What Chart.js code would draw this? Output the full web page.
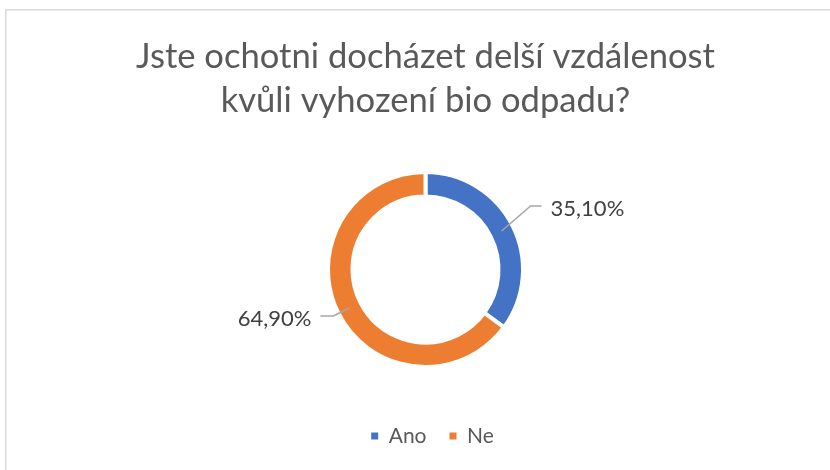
<!DOCTYPE html>
<html>
<head>
<meta charset="utf-8">
<script src="https://cdn.jsdelivr.net/npm/chart.js@4"></script>
<style>
  html, body { margin: 0; padding: 0; background: #fff; }
  #wrap { width: 830px; height: 470px; position: relative; }
</style>
</head>
<body>
<div id="wrap"><canvas id="c" width="830" height="470"></canvas></div>
<script>
const titleLines = ['Jste ochotni docházet delší vzdálenost', 'kvůli vyhození bio odpadu?'];
const categories = ['Ano', 'Ne'];
const percentValues = [35.10, 64.90];
const sliceColors = ['#4472C4', '#ED7D31'];

const FONT = 'Lato, "Open Sans", sans-serif';

// label leader geometry (style, not data): elbow offset from slice anchor, and tail direction
const leaderStyle = [
  { dx: 29, dy: -25, tail: 11, side: 1 },
  { dx: -16, dy: 8, tail: 13, side: -1 }
];

const frame = {
  id: 'frame',
  beforeDraw(chart) {
    const ctx = chart.ctx;
    ctx.save();
    ctx.fillStyle = '#fff';
    ctx.fillRect(0, 0, chart.width, chart.height);
    ctx.strokeStyle = '#D9D9D9';
    ctx.lineWidth = 1.5;
    ctx.strokeRect(5.75, 9.75, 1000, 1000);
    ctx.restore();
  }
};

const legendShift = {
  id: 'legendShift',
  afterLayout(chart) {
    if (chart.legend) { chart.legend.left += 7; chart.legend.right += 7; }
  }
};

const leaders = {
  id: 'leaders',
  afterDatasetsDraw(chart) {
    const ctx = chart.ctx;
    const meta = chart.getDatasetMeta(0);
    ctx.save();
    meta.data.forEach((arc, i) => {
      const p = arc.getProps(['x', 'y', 'startAngle', 'endAngle', 'innerRadius', 'outerRadius'], true);
      const mid = (p.startAngle + p.endAngle) / 2;
      const r = (p.innerRadius + p.outerRadius) / 2;
      const ax = p.x + Math.cos(mid) * r;
      const ay = p.y + Math.sin(mid) * r;
      const st = leaderStyle[i];
      const ex = ax + st.dx, ey = ay + st.dy;
      const tx = ex + st.side * st.tail;
      ctx.strokeStyle = '#A6A6A6';
      ctx.lineWidth = 1.5;
      ctx.beginPath();
      ctx.moveTo(ax, ay);
      ctx.lineTo(ex, ey);
      ctx.lineTo(tx, ey);
      ctx.stroke();
      ctx.fillStyle = '#404040';
      ctx.font = '22px ' + FONT;
      ctx.textBaseline = 'middle';
      ctx.textAlign = st.side > 0 ? 'left' : 'right';
      const txt = percentValues[i].toFixed(2).replace('.', ',') + '%';
      ctx.fillText(txt, tx + st.side * 9, ey + 3);
    });
    ctx.restore();
  }
};

new Chart(document.getElementById('c'), {
  type: 'doughnut',
  data: {
    labels: categories,
    datasets: [{
      data: percentValues,
      backgroundColor: sliceColors,
      borderColor: '#ffffff',
      borderWidth: 4
    }]
  },
  options: {
    responsive: false,
    animation: false,
    devicePixelRatio: 1,
    radius: 97.5,
    cutout: '74.9%',
    layout: { padding: { left: 21, right: 0, top: 10, bottom: 13.5 } },
    plugins: {
      title: {
        display: true,
        text: titleLines,
        color: '#595959',
        font: { family: FONT, size: 34.6, weight: 'normal', lineHeight: 44 / 34.6 },
        padding: { top: 25, bottom: 13.5 }
      },
      legend: {
        position: 'bottom',
        labels: {
          color: '#595959',
          font: { family: FONT, size: 21 },
          boxWidth: 7,
          boxHeight: 7,
          padding: 23,
          generateLabels(chart) {
            return categories.map((c, i) => ({
              text: c, fillStyle: sliceColors[i], strokeStyle: sliceColors[i],
              lineWidth: 0, hidden: false, index: i, fontColor: '#595959'
            }));
          }
        }
      },
      tooltip: { enabled: false }
    }
  },
  plugins: [frame, legendShift, leaders]
});
</script>
</body>
</html>
